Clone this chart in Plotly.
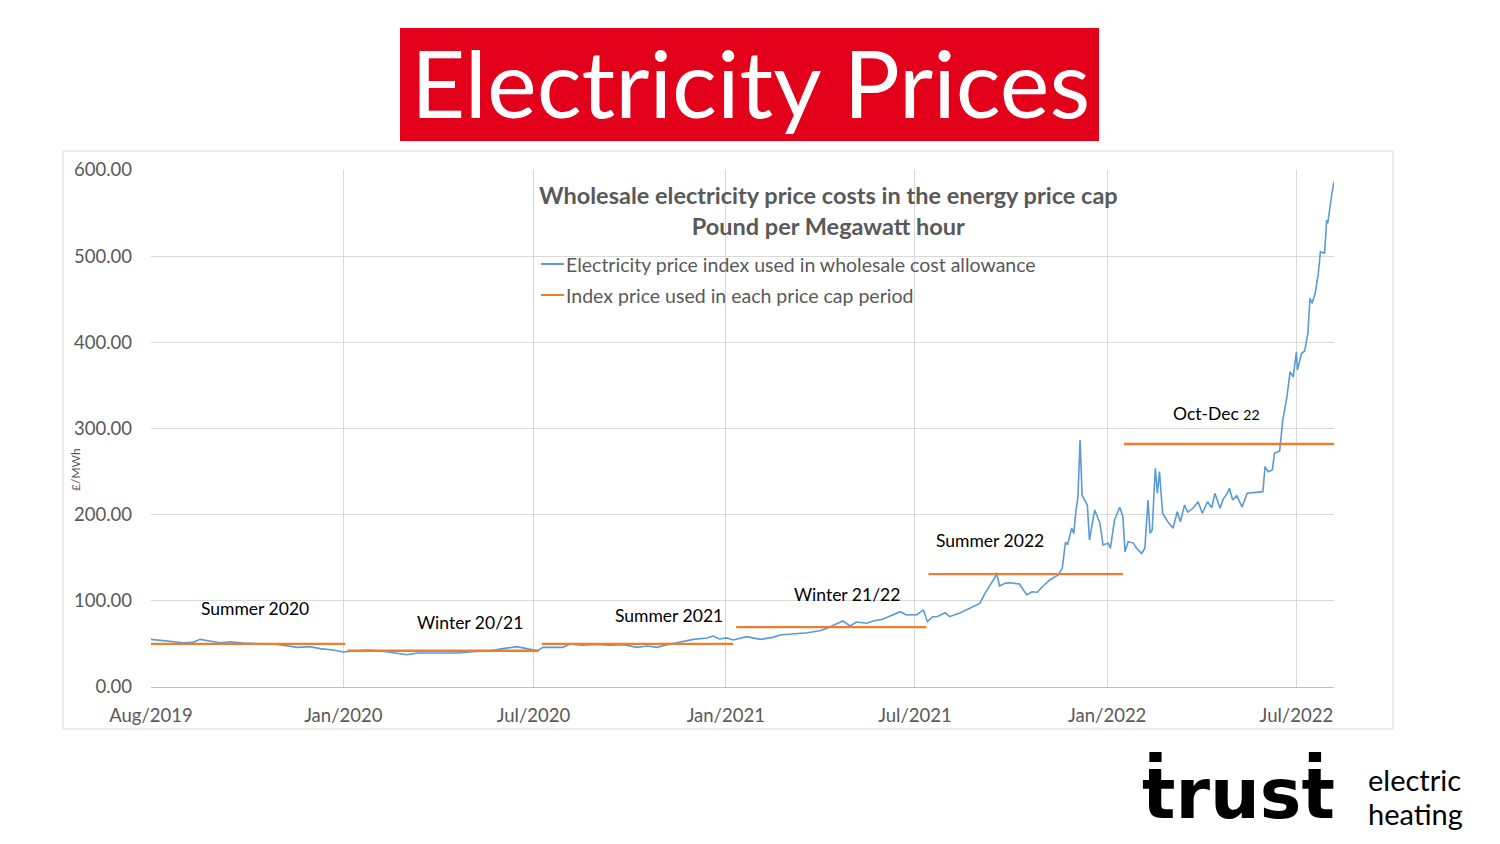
import plotly.graph_objects as go

# page is 1500x844; the browser body has an 8px margin, so the figure is 1484x828
PAGE_W, PAGE_H = 1500, 844
OFF = 8
W, H = PAGE_W - 2 * OFF, PAGE_H - 2 * OFF

# ---------------- data ----------------
index_dates = [
    "2019-07-01", "2019-07-19", "2019-08-01", "2019-08-10", "2019-08-17", "2019-08-26",
    "2019-09-05", "2019-09-15", "2019-09-27", "2019-10-10", "2019-10-26", "2019-11-04",
    "2019-11-18", "2019-11-30", "2019-12-10", "2019-12-22", "2020-01-01", "2020-01-07",
    "2020-01-24", "2020-02-08", "2020-02-21", "2020-03-02", "2020-03-12", "2020-03-21",
    "2020-04-03", "2020-04-19", "2020-05-04", "2020-05-20", "2020-06-02", "2020-06-15",
    "2020-06-28", "2020-07-05", "2020-07-10", "2020-07-17", "2020-07-29", "2020-08-05",
    "2020-08-17", "2020-08-31", "2020-09-12", "2020-09-25", "2020-10-08", "2020-10-18",
    "2020-10-27", "2020-11-06", "2020-11-18", "2020-12-01", "2020-12-14", "2020-12-20",
    "2020-12-26", "2021-01-02", "2021-01-08", "2021-01-15", "2021-01-21", "2021-02-03",
    "2021-02-15", "2021-02-22", "2021-03-06", "2021-03-20", "2021-04-01", "2021-04-08",
    "2021-04-14", "2021-04-23", "2021-04-30", "2021-05-06", "2021-05-16", "2021-05-22",
    "2021-05-31", "2021-06-10", "2021-06-17", "2021-06-23", "2021-07-03", "2021-07-09",
    "2021-07-13", "2021-07-18", "2021-07-22", "2021-07-30", "2021-08-03", "2021-08-13",
    "2021-08-23", "2021-09-01", "2021-09-06", "2021-09-11", "2021-09-16", "2021-09-17",
    "2021-09-20", "2021-09-25", "2021-09-30", "2021-10-09", "2021-10-16", "2021-10-21",
    "2021-10-26", "2021-10-31", "2021-11-07", "2021-11-15", "2021-11-19", "2021-11-22",
    "2021-11-24", "2021-11-28", "2021-11-30", "2021-12-02", "2021-12-04", "2021-12-06",
    "2021-12-08", "2021-12-13", "2021-12-15", "2021-12-20", "2021-12-25", "2021-12-28",
    "2022-01-02", "2022-01-04", "2022-01-08", "2022-01-13", "2022-01-16", "2022-01-18",
    "2022-01-21", "2022-01-26", "2022-01-29", "2022-02-03", "2022-02-06", "2022-02-09",
    "2022-02-11", "2022-02-13", "2022-02-16", "2022-02-18", "2022-02-20", "2022-02-23",
    "2022-02-28", "2022-03-05", "2022-03-09", "2022-03-12", "2022-03-16", "2022-03-19",
    "2022-03-24", "2022-03-29", "2022-04-02", "2022-04-07", "2022-04-11", "2022-04-14",
    "2022-04-19", "2022-04-22", "2022-04-26", "2022-04-28", "2022-05-01", "2022-05-05",
    "2022-05-10", "2022-05-15", "2022-05-24", "2022-05-30", "2022-06-01", "2022-06-04",
    "2022-06-08", "2022-06-10", "2022-06-15", "2022-06-18", "2022-06-22", "2022-06-25",
    "2022-06-28", "2022-07-01", "2022-07-02", "2022-07-06", "2022-07-09", "2022-07-12",
    "2022-07-14", "2022-07-16", "2022-07-19", "2022-07-22", "2022-07-24", "2022-07-28",
    "2022-07-30", "2022-07-31", "2022-08-04", "2022-08-06",
]
index_values = [
    55.3, 52.6, 51.4, 51.8, 55.3, 53.4,
    51.4, 52.6, 51.0, 50.3, 49.9, 48.4,
    46.0, 46.8, 44.5, 42.9, 40.6, 41.4,
    42.9, 41.4, 39.1, 37.5, 39.5, 39.5,
    39.1, 39.5, 41.0, 42.1, 44.5, 46.8,
    43.7, 42.1, 46.0, 46.0, 46.0, 49.9,
    48.4, 49.5, 48.4, 49.0, 46.0, 47.6,
    46.0, 49.0, 52.2, 55.3, 56.9, 59.2,
    55.7, 57.0, 54.5, 56.5, 58.4, 55.3,
    57.6, 60.3, 61.5, 63.0, 65.3, 68.1,
    71.6, 76.6, 70.8, 75.4, 74.0, 76.6,
    78.6, 83.6, 87.4, 83.6, 84.0, 89.4,
    75.8, 81.6, 81.6, 86.2, 81.6, 86.0,
    91.3, 97.0, 108.7, 118.4, 128.0, 132.6,
    117.2, 120.3, 121.0, 119.5, 106.8, 110.6,
    110.0, 116.4, 124.2, 130.0, 137.7, 168.0,
    165.0, 184.5, 178.0, 203.4, 220.8, 286.6,
    222.0, 211.2, 170.6, 205.4, 190.0, 164.8,
    166.8, 161.0, 193.8, 208.5, 197.6, 157.0,
    168.6, 167.0, 161.0, 155.0, 161.0, 217.0,
    178.4, 182.0, 253.8, 224.8, 249.9, 201.6,
    191.8, 184.2, 203.4, 191.8, 211.2, 203.0,
    207.4, 215.0, 201.6, 215.0, 208.0, 224.8,
    207.4, 218.0, 224.8, 230.6, 217.0, 222.0,
    209.0, 224.8, 225.5, 226.7, 255.7, 249.9,
    252.0, 271.2, 274.0, 309.9, 336.9, 365.9,
    360.0, 389.0, 367.9, 387.3, 390.0, 410.5,
    451.0, 445.3, 456.9, 480.0, 505.2, 503.3,
    541.9, 538.0, 572.9, 586.4,
]

cap_starts = ["2019-07-01", "2020-01-05", "2020-07-09", "2021-01-11", "2021-07-14", "2022-01-17"]
cap_ends = ["2020-01-03", "2020-07-06", "2021-01-08", "2021-07-12", "2022-01-16", "2022-08-06"]
cap_values = [50.0, 42.0, 50.0, 69.5, 131.0, 282.0]
cap_labels = ["Summer 2020", "Winter 20/21", "Summer 2021", "Winter 21/22", "Summer 2022",
              "Oct-Dec <span style='font-size:14px'>22</span>"]

x_tick_vals = ["2019-07-01", "2020-01-01", "2020-07-01", "2021-01-01", "2021-07-01",
               "2022-01-01", "2022-07-01"]
x_tick_text = ["Aug/2019", "Jan/2020", "Jul/2020", "Jan/2021", "Jul/2021", "Jan/2022", "Jul/2022"]
y_tick_vals = [0, 100, 200, 300, 400, 500, 600]

series_names = ["Electricity price index used in wholesale cost allowance",
                "Index price used in each price cap period"]

# ---------------- styling ----------------
BLUE = "#5B9BD5"
ORANGE = "#ED7D31"
GRAY_TXT = "#595959"
GRID = "#d9d9d9"
FONT = "Lato"


def px(x):
    return (x - OFF) / W


def py(y):
    return 1 - (y - OFF) / H


cap_x, cap_y = [], []
for s, e, v in zip(cap_starts, cap_ends, cap_values):
    cap_x += [s, e, None]
    cap_y += [v, v, None]

fig = go.Figure()
fig.add_trace(go.Scatter(x=index_dates, y=index_values, mode="lines",
                         line=dict(color=BLUE, width=1.6), name=series_names[0],
                         showlegend=False))
fig.add_trace(go.Scatter(x=cap_x, y=cap_y, mode="lines",
                         line=dict(color=ORANGE, width=2.4), name=series_names[1],
                         showlegend=False, connectgaps=False))

annotations = []
shapes = []

# red banner title
shapes.append(dict(type="rect", xref="paper", yref="paper",
                   x0=px(400), x1=px(1099), y0=py(141), y1=py(28),
                   fillcolor="#E2001A", line=dict(width=0), layer="below"))
annotations.append(dict(text="Electricity Prices", xref="paper", yref="paper",
                        x=px(750), y=py(82), xanchor="center", yanchor="middle",
                        showarrow=False,
                        font=dict(family=FONT, size=94, color="white")))

# chart border
shapes.append(dict(type="rect", xref="paper", yref="paper",
                   x0=px(63), x1=px(1393), y0=py(729), y1=py(151),
                   line=dict(color="#d9d9d9", width=1), fillcolor="rgba(0,0,0,0)",
                   layer="below"))

# chart title
annotations.append(dict(text="<b>Wholesale electricity price costs in the energy price cap</b><br>"
                             "<b>Pound per Megawatt hour</b>",
                        xref="paper", yref="paper", x=px(828), y=py(211),
                        xanchor="center", yanchor="middle", showarrow=False,
                        align="center",
                        font=dict(family=FONT, size=23.5, color=GRAY_TXT)))

# manual legend
for i, (name, col) in enumerate(zip(series_names, [BLUE, ORANGE])):
    yy = 264 + i * 31
    shapes.append(dict(type="line", xref="paper", yref="paper",
                       x0=px(541), x1=px(564), y0=py(yy), y1=py(yy),
                       line=dict(color=col, width=2)))
    annotations.append(dict(text=name, xref="paper", yref="paper",
                            x=px(564), y=py(yy), xanchor="left", yanchor="middle",
                            showarrow=False,
                            font=dict(family=FONT, size=19.5, color=GRAY_TXT)))

# period labels
label_pos = [(255, 608), (470, 622), (669, 615), (847, 594), (990, 540), (1216, 414)]
for lab, (lx, ly) in zip(cap_labels, label_pos):
    annotations.append(dict(text=lab, xref="paper", yref="paper", x=px(lx), y=py(ly),
                            xanchor="center", yanchor="middle", showarrow=False,
                            font=dict(family=FONT, size=17.5, color="black")))

# y-axis title
annotations.append(dict(text="£/MWh", xref="paper", yref="paper", x=px(75), y=py(470),
                        xanchor="center", yanchor="middle", textangle=-90,
                        showarrow=False, font=dict(family=FONT, size=12, color=GRAY_TXT)))

# logo
annotations.append(dict(text="<b>ṫrusṫ</b>", xref="paper", yref="paper", x=px(1238), y=py(793),
                        xanchor="center", yanchor="middle", showarrow=False,
                        font=dict(family="DejaVu Sans", size=70, color="black")))
annotations.append(dict(text="electric", xref="paper", yref="paper",
                        x=px(1366), y=py(779), xanchor="left", yanchor="middle",
                        showarrow=False,
                        font=dict(family=FONT, size=29, color="black")))
annotations.append(dict(text="heating", xref="paper", yref="paper",
                        x=px(1366), y=py(813), xanchor="left", yanchor="middle",
                        showarrow=False,
                        font=dict(family=FONT, size=29, color="black")))

fig.update_layout(
    width=W, height=H,
    margin=dict(l=0, r=0, t=0, b=0, pad=0, autoexpand=False),
    paper_bgcolor="white", plot_bgcolor="white",
    shapes=shapes, annotations=annotations,
    xaxis=dict(domain=[px(151), px(1334)], type="date",
               range=["2019-07-01", "2022-08-06"],
               tickvals=x_tick_vals, ticktext=x_tick_text,
               showgrid=True, gridcolor=GRID, gridwidth=1,
               showline=True, linecolor="#bfbfbf", linewidth=1,
               zeroline=False, ticks="", ticklen=0, automargin=False,
               ticklabelstandoff=12,
               tickfont=dict(family=FONT, size=18.5, color=GRAY_TXT)),
    yaxis=dict(domain=[py(687), py(170)], range=[0, 600],
               tickvals=y_tick_vals, tickformat=".2f",
               showgrid=True, gridcolor=GRID, gridwidth=1,
               zeroline=False, showline=False, ticks="", automargin=False,
               ticklabelstandoff=18,
               tickfont=dict(family=FONT, size=18.5, color=GRAY_TXT)),
)

fig.write_html("out.html")
